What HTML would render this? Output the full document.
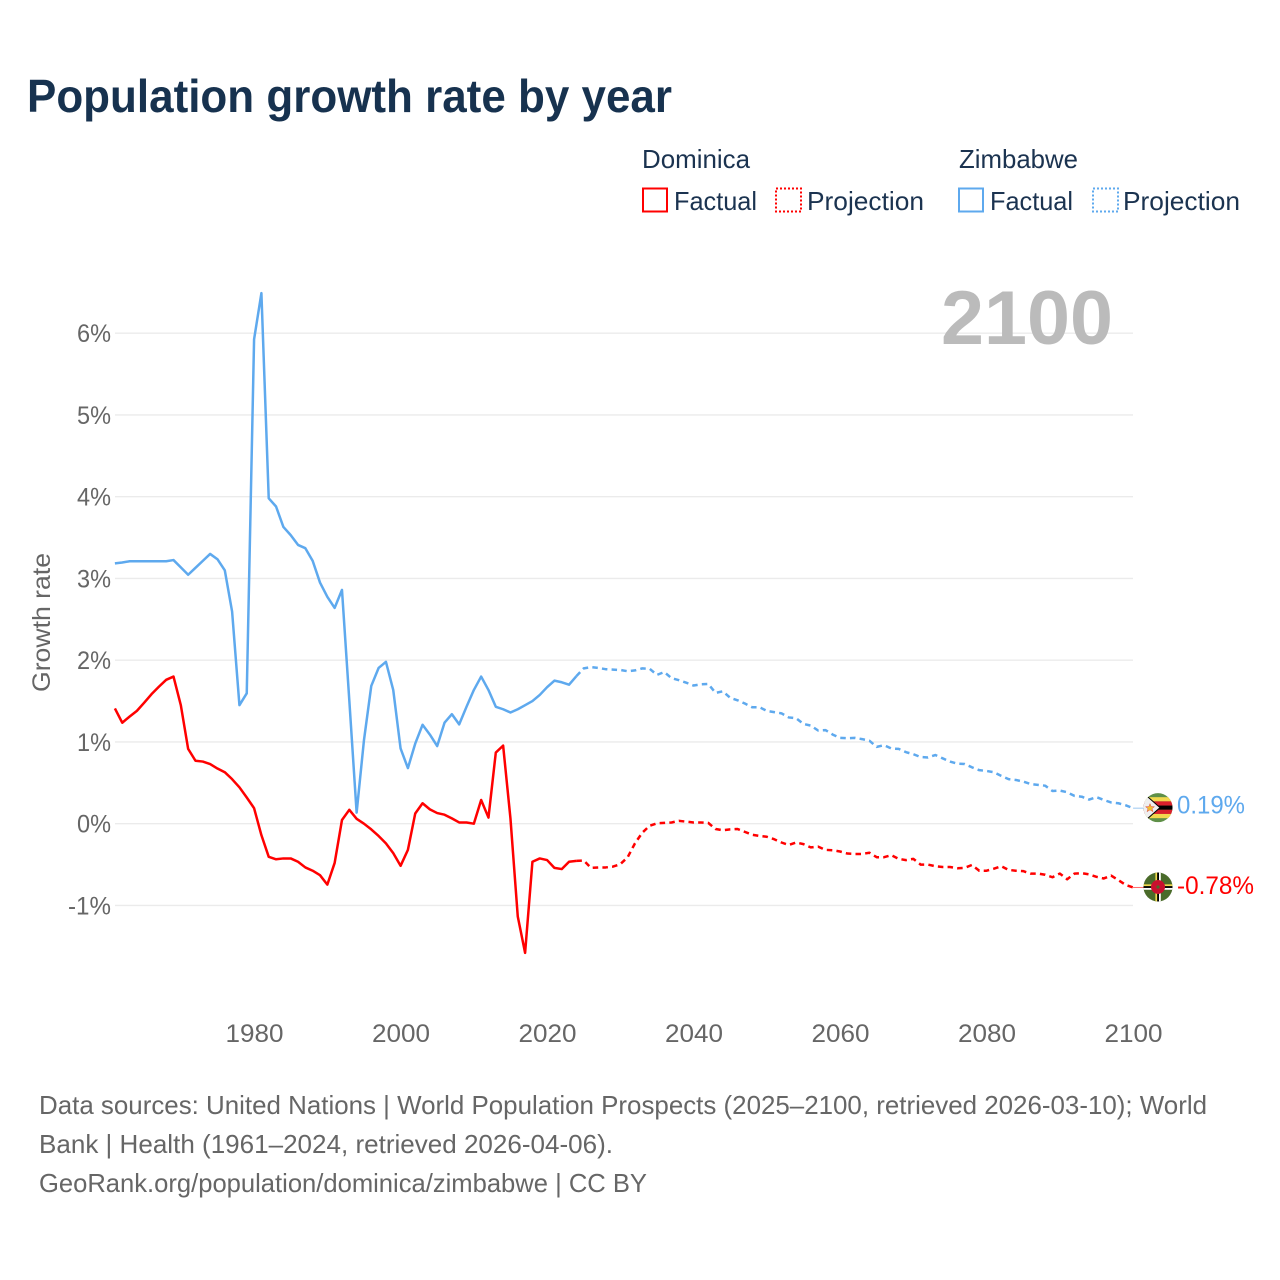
<!DOCTYPE html>
<html lang="en">
<head>
<meta charset="utf-8">
<title>Population growth rate by year</title>
<style>
html,body{margin:0;padding:0;background:#fff;}
svg{display:block;font-family:"Liberation Sans",sans-serif;}
</style>
</head>
<body>
<svg id="chart" xmlns="http://www.w3.org/2000/svg" width="1280" height="1280" viewBox="0 0 1280 1280">
  <defs>
    <clipPath id="zw-clip"><circle cx="0" cy="0" r="14.5"/></clipPath>
    <clipPath id="dm-clip"><circle cx="0" cy="0" r="14.5"/></clipPath>
  </defs>
  <rect x="0" y="0" width="1280" height="1280" fill="#ffffff"/>
  <text x="27" y="112" font-size="46" font-weight="700" fill="#17324f" textLength="645" lengthAdjust="spacingAndGlyphs">Population growth rate by year</text>

  <g font-size="26" fill="#1b3350">
    <text x="642" y="168" textLength="108" lengthAdjust="spacingAndGlyphs">Dominica</text>
    <rect x="643" y="188.5" width="24" height="23" fill="none" stroke="#ff0000" stroke-width="2"/>
    <text x="674" y="210" textLength="83" lengthAdjust="spacingAndGlyphs">Factual</text>
    <rect x="776" y="188.5" width="25" height="23" fill="none" stroke="#ff0000" stroke-width="2" stroke-dasharray="2 2"/>
    <text x="807" y="210" textLength="117" lengthAdjust="spacingAndGlyphs">Projection</text>
    <text x="959" y="168" textLength="119" lengthAdjust="spacingAndGlyphs">Zimbabwe</text>
    <rect x="959" y="188.5" width="24" height="23" fill="none" stroke="#5ea9ee" stroke-width="2"/>
    <text x="990" y="210" textLength="83" lengthAdjust="spacingAndGlyphs">Factual</text>
    <rect x="1093" y="188.5" width="25" height="23" fill="none" stroke="#5ea9ee" stroke-width="2" stroke-dasharray="2 2"/>
    <text x="1123" y="210" textLength="117" lengthAdjust="spacingAndGlyphs">Projection</text>
  </g>

  <g id="grid"></g>
  <g id="y-ticks"></g>
  <g id="x-ticks"></g>

  <text transform="translate(50,622.5) rotate(-90)" text-anchor="middle" font-size="25" fill="#666666" textLength="139" lengthAdjust="spacingAndGlyphs">Growth rate</text>
  <text x="941" y="344" font-size="76" font-weight="700" fill="#bbbbbb" textLength="172" lengthAdjust="spacingAndGlyphs">2100</text>

  <g id="series"></g>

  <g id="zw-flag">
    <g clip-path="url(#zw-clip)">
      <rect x="-15" y="-15" width="30" height="30" fill="#5f9048"/>
      <rect x="-15" y="-10.5" width="30" height="4.2" fill="#f2d84e"/>
      <rect x="-15" y="-6.3" width="30" height="4.2" fill="#d8202c"/>
      <rect x="-15" y="-2.1" width="30" height="4.2" fill="#000000"/>
      <rect x="-15" y="2.1" width="30" height="4.2" fill="#d8202c"/>
      <rect x="-15" y="6.3" width="30" height="4.2" fill="#f2d84e"/>
      <path d="M-15,-15 L2,0 L-15,15 Z" fill="#efefef" stroke="#000000" stroke-width="1"/>
      <path d="M-8,-4 L-6.8,-1 L-3.5,-1 L-6,1 L-5,4 L-8,2.2 L-11,4 L-10,1 L-12.5,-1 L-9.2,-1 Z" fill="#f0c030" stroke="#d8202c" stroke-width="0.4"/>
    </g>
  </g>
  <g id="dm-flag">
    <g clip-path="url(#dm-clip)">
      <rect x="-15" y="-15" width="30" height="30" fill="#4a6b2a"/>
      <rect x="-15" y="-2.6" width="30" height="1.8" fill="#f2d84e"/>
      <rect x="-15" y="-0.8" width="30" height="1.8" fill="#000000"/>
      <rect x="-15" y="1" width="30" height="1.8" fill="#ffffff"/>
      <rect x="-2.6" y="-15" width="1.8" height="30" fill="#f2d84e"/>
      <rect x="-0.8" y="-15" width="1.8" height="30" fill="#000000"/>
      <rect x="1" y="-15" width="1.8" height="30" fill="#ffffff"/>
      <circle cx="0" cy="0" r="7" fill="#c8102e"/>
      <circle cx="0" cy="0" r="1.6" fill="#4a6b2a"/>
    </g>
  </g>
  <text id="zw-value" x="1177" font-size="25" fill="#5ea9ee" textLength="68" lengthAdjust="spacingAndGlyphs"></text>
  <text id="dm-value" x="1177" font-size="25" fill="#ff0000" textLength="77" lengthAdjust="spacingAndGlyphs"></text>

  <g font-size="26" fill="#666666">
    <text x="39" y="1114" textLength="1168" lengthAdjust="spacingAndGlyphs">Data sources: United Nations | World Population Prospects (2025–2100, retrieved 2026-03-10); World</text>
    <text x="39" y="1153" textLength="574" lengthAdjust="spacingAndGlyphs">Bank | Health (1961–2024, retrieved 2026-04-06).</text>
    <text x="39" y="1192" textLength="608" lengthAdjust="spacingAndGlyphs">GeoRank.org/population/dominica/zimbabwe | CC BY</text>
  </g>
</svg>
<script>
const firstFactualYear = 1961;
const yTickValues = [6, 5, 4, 3, 2, 1, 0, -1];
const yTickLabels = ["6%", "5%", "4%", "3%", "2%", "1%", "0%", "-1%"];
const xTickValues = [1980, 2000, 2020, 2040, 2060, 2080, 2100];
const xTickLabels = ["1980", "2000", "2020", "2040", "2060", "2080", "2100"];

// 1961–2024
const zimbabweFactual = [
  3.185, 3.195, 3.21, 3.21, 3.21, 3.21, 3.21, 3.21, 3.225,
  3.135, 3.045, 3.13, 3.215, 3.30, 3.235, 3.10, 2.595, 1.45, 1.595,
  5.925, 6.49, 3.98, 3.88, 3.63, 3.53, 3.41, 3.37, 3.215, 2.95,
  2.775, 2.64, 2.86, 1.51, 0.135, 1.02, 1.685, 1.905, 1.98, 1.635,
  0.92, 0.68, 0.98, 1.21, 1.09, 0.95, 1.235, 1.34, 1.215, 1.43,
  1.635, 1.80, 1.635, 1.43, 1.40, 1.36, 1.40, 1.45, 1.50, 1.575,
  1.67, 1.75, 1.73, 1.70, 1.805
];
// 2025–2100
const zimbabweProjection = [
  1.90, 1.915, 1.905, 1.89, 1.885,
  1.88, 1.865, 1.875, 1.90, 1.895, 1.82, 1.855, 1.78, 1.755, 1.725,
  1.69, 1.705, 1.71, 1.60, 1.62, 1.54, 1.51, 1.47, 1.425, 1.425,
  1.38, 1.365, 1.35, 1.30, 1.29, 1.22, 1.20, 1.14, 1.145, 1.09,
  1.05, 1.045, 1.05, 1.035, 1.015, 0.94, 0.96, 0.92, 0.915, 0.875,
  0.85, 0.815, 0.81, 0.84, 0.80, 0.76, 0.735, 0.73, 0.69, 0.655,
  0.645, 0.63, 0.585, 0.545, 0.535, 0.515, 0.485, 0.475, 0.465, 0.40,
  0.405, 0.385, 0.34, 0.33, 0.295, 0.325, 0.29, 0.26, 0.25, 0.225,
  0.19
];
// 1961–2024
const dominicaFactual = [
  1.41, 1.235, 1.31, 1.38, 1.48, 1.585, 1.675, 1.76, 1.80,
  1.45, 0.915, 0.77, 0.76, 0.73, 0.675, 0.63, 0.545, 0.445, 0.32,
  0.19, -0.14, -0.405, -0.435, -0.425, -0.425, -0.465, -0.535, -0.575, -0.63,
  -0.745, -0.48, 0.045, 0.17, 0.06, 0.0, -0.07, -0.15, -0.24, -0.36,
  -0.515, -0.32, 0.125, 0.25, 0.175, 0.13, 0.11, 0.065, 0.015, 0.015,
  0.0, 0.29, 0.075, 0.87, 0.955, 0.065, -1.135, -1.58, -0.465, -0.425,
  -0.445, -0.54, -0.555, -0.465, -0.455
];
// 2025–2100
const dominicaProjection = [
  -0.45, -0.54, -0.535, -0.535, -0.525,
  -0.495, -0.41, -0.24, -0.11, -0.025, 0.005, 0.01, 0.015, 0.035, 0.025,
  0.015, 0.015, 0.01, -0.065, -0.08, -0.07, -0.065, -0.10, -0.135, -0.15,
  -0.16, -0.19, -0.23, -0.26, -0.23, -0.25, -0.29, -0.28, -0.32, -0.325,
  -0.34, -0.365, -0.37, -0.37, -0.355, -0.41, -0.41, -0.385, -0.43, -0.445,
  -0.43, -0.50, -0.50, -0.52, -0.53, -0.53, -0.545, -0.54, -0.505, -0.575,
  -0.575, -0.55, -0.52, -0.565, -0.575, -0.58, -0.61, -0.61, -0.625, -0.655,
  -0.61, -0.68, -0.61, -0.605, -0.62, -0.65, -0.67, -0.635, -0.69, -0.75,
  -0.78
];
const zimbabweEndLabel = "0.19%";
const dominicaEndLabel = "-0.78%";

const SVG_NS = "http://www.w3.org/2000/svg";
const RED = "#ff0000";
const BLUE = "#5ea9ee";
function xScale(year) { return 114.9 + (year - firstFactualYear) * 7.325; }
function yScale(value) { return 823.7 - value * 81.75; }

const gridGroup = document.getElementById("grid");
const yTickGroup = document.getElementById("y-ticks");
const xTickGroup = document.getElementById("x-ticks");
const seriesGroup = document.getElementById("series");

yTickValues.forEach(function (value, i) {
  const line = document.createElementNS(SVG_NS, "line");
  
  
  line.setAttribute("x1", 115);
  line.setAttribute("x2", 1133);
  line.setAttribute("y1", yScale(value));
  line.setAttribute("y2", yScale(value));
  line.setAttribute("stroke", "#ebebeb");
  line.setAttribute("stroke-width", "1.3");
  gridGroup.appendChild(line);

  const label = document.createElementNS(SVG_NS, "text");
  
  
  label.setAttribute("x", 111);
  label.setAttribute("y", yScale(value) + 9);
  label.setAttribute("text-anchor", "end");
  label.setAttribute("font-size", "25");
  label.setAttribute("fill", "#666666");
  label.setAttribute("textLength", yTickLabels[i].length === 2 ? "34" : "43");
  label.setAttribute("lengthAdjust", "spacingAndGlyphs");
  label.textContent = yTickLabels[i];
  yTickGroup.appendChild(label);
});

xTickValues.forEach(function (year, i) {
  const label = document.createElementNS(SVG_NS, "text");
  
  
  label.setAttribute("x", xScale(year) + 0.5);
  label.setAttribute("y", 1042);
  label.setAttribute("text-anchor", "middle");
  label.setAttribute("font-size", "25");
  label.setAttribute("fill", "#666666");
  label.setAttribute("textLength", "58");
  label.setAttribute("lengthAdjust", "spacingAndGlyphs");
  label.textContent = xTickLabels[i];
  xTickGroup.appendChild(label);
});

function buildPath(startYear, values) {
  return values.map(function (value, i) {
    return (i === 0 ? "M" : "L") + xScale(startYear + i).toFixed(2) + "," + yScale(value).toFixed(2);
  }).join(" ");
}

function makeLine(d, color, dashed) {
  const path = document.createElementNS(SVG_NS, "path");
  path.setAttribute("d", d);
  path.setAttribute("fill", "none");
  path.setAttribute("stroke", color);
  path.setAttribute("stroke-width", "2.5");
  path.setAttribute("stroke-linejoin", "round");
  if (dashed) { path.setAttribute("stroke-dasharray", "5.5 4.2"); }
  seriesGroup.appendChild(path);
  return path;
}

const lastFactualYear = firstFactualYear + zimbabweFactual.length - 1;

const zwFactualLine = makeLine(buildPath(firstFactualYear, zimbabweFactual), BLUE, false);



const zwProjectionLine = makeLine(buildPath(lastFactualYear, [zimbabweFactual[zimbabweFactual.length - 1]].concat(zimbabweProjection)), BLUE, true);



const dmFactualLine = makeLine(buildPath(firstFactualYear, dominicaFactual), RED, false);



const dmProjectionLine = makeLine(buildPath(lastFactualYear, [dominicaFactual[dominicaFactual.length - 1]].concat(dominicaProjection)), RED, true);



const endYear = lastFactualYear + zimbabweProjection.length;
const zwEndY = yScale(zimbabweProjection[zimbabweProjection.length - 1]);
const dmEndY = yScale(dominicaProjection[dominicaProjection.length - 1]);

const zwConnector = makeLine("M" + xScale(endYear) + "," + zwEndY + " L1146," + zwEndY, "#9cc8f0", false);


zwConnector.setAttribute("stroke-width", "1");

const dmConnector = makeLine("M" + xScale(endYear) + "," + dmEndY + " L1146," + dmEndY, "#ff6a6a", false);


dmConnector.setAttribute("stroke-width", "1");

document.getElementById("zw-flag").setAttribute("transform", "translate(1158," + (zwEndY - 0.5) + ")");
document.getElementById("dm-flag").setAttribute("transform", "translate(1158," + (dmEndY - 0.5) + ")");

const zwValue = document.getElementById("zw-value");
zwValue.setAttribute("y", zwEndY + 5.5);
zwValue.textContent = zimbabweEndLabel;

const dmValue = document.getElementById("dm-value");
dmValue.setAttribute("y", dmEndY + 6.5);
dmValue.textContent = dominicaEndLabel;
</script>
</body>
</html>
